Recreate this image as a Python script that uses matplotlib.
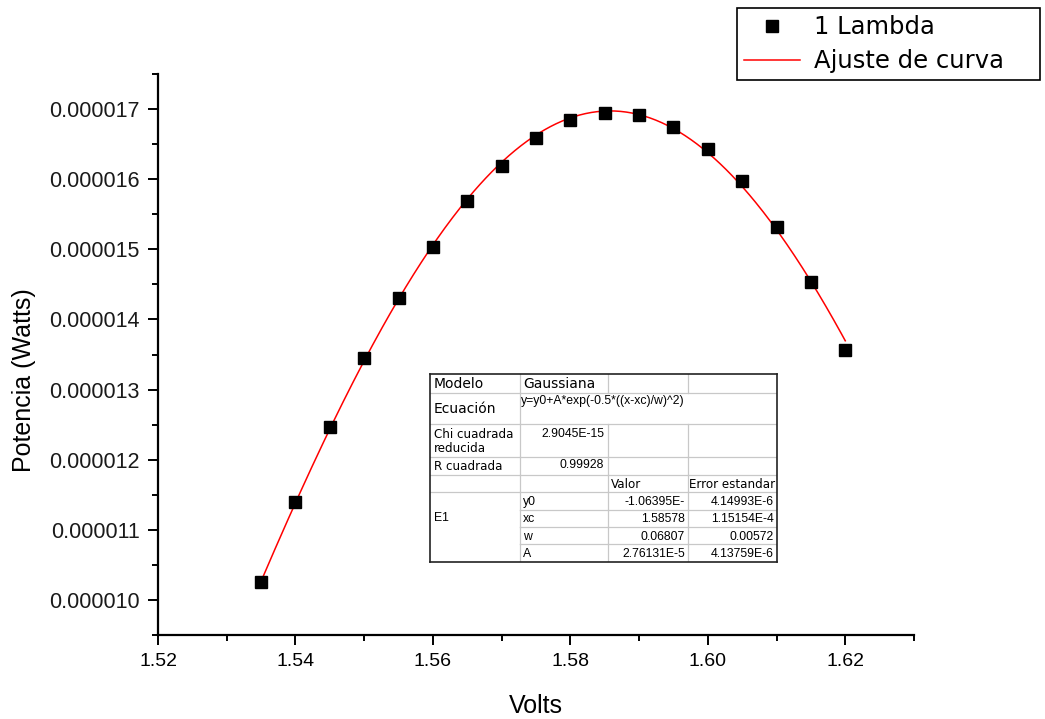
import numpy as np
import matplotlib
matplotlib.use("Agg")
import matplotlib.pyplot as plt
import matplotlib.ticker as mticker

# measured power vs. voltage
volts = [1.535, 1.540, 1.545, 1.550, 1.555, 1.560, 1.565, 1.570, 1.575,
         1.580, 1.585, 1.590, 1.595, 1.600, 1.605, 1.610, 1.615, 1.620]
watts = [1.0257e-5, 1.1398e-5, 1.2468e-5, 1.3452e-5, 1.4308e-5, 1.5036e-5,
         1.5692e-5, 1.6191e-5, 1.6590e-5, 1.6847e-5, 1.6947e-5, 1.6919e-5,
         1.6748e-5, 1.6434e-5, 1.5977e-5, 1.5321e-5, 1.4536e-5, 1.3566e-5]

# gaussian fit parameters
fit_y0 = -1.06395e-5
fit_xc = 1.58578
fit_w = 0.06807
fit_A = 2.76131e-5

# fit report rows: (name, value, error)
param_names = ["y0", "xc", "w", "A"]
param_values = ["-1.06395E-", "1.58578", "0.06807", "2.76131E-5"]
param_errors = ["4.14993E-6", "1.15154E-4", "0.00572", "4.13759E-6"]
chi_sq = "2.9045E-15"
r_sq = "0.99928"
equation = "y=y0+A*exp(-0.5*((x-xc)/w)^2)"

sans = ["Liberation Sans", "DejaVu Sans"]
plt.rcParams["font.family"] = sans

fig = plt.figure(figsize=(10.45, 7.19), dpi=100)
ax = fig.add_axes([158/1045, 1-635/719, 756/1045, 561/719])

xfit = np.linspace(volts[0], volts[-1], 300)
yfit = fit_y0 + fit_A*np.exp(-0.5*((xfit - fit_xc)/fit_w)**2)

ax.plot(volts, watts, linestyle="none", marker="s", markersize=8.5,
        color="black", label="1 Lambda", zorder=3)
ax.plot(xfit, yfit, color="red", linewidth=1.1, label="Ajuste de curva", zorder=2)

ax.set_xlim(1.52, 1.63)
ax.set_ylim(0.95e-5, 1.75e-5)
ax.xaxis.set_major_locator(mticker.MultipleLocator(0.02))
ax.xaxis.set_minor_locator(mticker.MultipleLocator(0.01))
ax.yaxis.set_major_locator(mticker.MultipleLocator(1e-6))
ax.yaxis.set_minor_locator(mticker.MultipleLocator(0.5e-6))
ax.xaxis.set_major_formatter(mticker.FormatStrFormatter("%.2f"))
ax.yaxis.set_major_formatter(mticker.FormatStrFormatter("%.6f"))

for s in ["top", "right"]:
    ax.spines[s].set_visible(False)
for s in ["left", "bottom"]:
    ax.spines[s].set_linewidth(1.6)
ax.tick_params(which="major", direction="out", length=7, width=1.4,
               pad=6, colors="black")
ax.tick_params(which="minor", direction="out", length=4, width=1.4)
ax.tick_params(axis="x", labelsize=14)
ax.tick_params(axis="y", labelsize=15.5)
for lab in ax.get_yticklabels():
    lab.set_color("#1a1a1a")

ax.set_xlabel("Volts", fontsize=18)
ax.set_ylabel("Potencia (Watts)", fontsize=18)
ax.xaxis.set_label_coords(0.5, -0.105)
ax.yaxis.set_label_coords(-0.162, 0.455)

fig.legend(loc="upper left", bbox_to_anchor=(737/1045, 1-8/719, 303/1045, 0.0),
           mode="expand", borderaxespad=0, fancybox=False, edgecolor="black",
           framealpha=1, prop={"family": "DejaVu Sans", "size": 17.5},
           handlelength=2.3, handletextpad=0.55, borderpad=0.3,
           labelspacing=0.4, markerscale=1.0)
fig.legends[0].get_frame().set_linewidth(1.2)

# fit report table
tab = fig.add_axes([430/1045, 1-562/719, 347/1045, 188/719])
tab.set_xlim(0, 347)
tab.set_ylim(188, 0)
tab.set_xticks([])
tab.set_yticks([])
for s in tab.spines.values():
    s.set_linewidth(1.2)
    s.set_color("#222222")

cols = [0, 90, 178, 258, 347]
rows = [0, 19, 50, 83, 101, 118, 136, 153, 170, 188]
grid = "#c8c8c8"
for r in rows[1:-1]:
    x0 = cols[1] if r > rows[5] else 0
    tab.plot([x0, 347], [r, r], color=grid, lw=0.9)
for c in cols[1:-1]:
    for i in range(len(rows) - 1):
        if i == 1 and c != cols[1]:
            continue
        tab.plot([c, c], [rows[i], rows[i+1]], color=grid, lw=0.9)

big = {"family": "DejaVu Sans", "size": 10}
mid = {"family": "DejaVu Sans", "size": 8.6}
small = {"family": "Liberation Sans", "size": 8.8}

tab.text(4, 10, "Modelo", va="center", **big)
tab.text(93, 10, "Gaussiana", va="center", **big)
tab.text(4, 35, "Ecuación", va="center", **big)
tab.text(91, 27, equation, va="center", **small)
tab.text(4, 60, "Chi cuadrada", va="center", **mid)
tab.text(4, 75, "reducida", va="center", **mid)
tab.text(174, 60, chi_sq, va="center", ha="right", **small)
tab.text(4, 92, "R cuadrada", va="center", **mid)
tab.text(174, 91, r_sq, va="center", ha="right", **small)
tab.text(181, 110, "Valor", va="center", **mid)
tab.text(259, 110, "Error estandar", va="center", **mid)
tab.text(4, 144, "E1", va="center", **small)
for i, (n, v, e) in enumerate(zip(param_names, param_values, param_errors)):
    yc = (rows[5+i] + rows[6+i])/2 + 1
    tab.text(93, yc, n, va="center", **small)
    tab.text(255, yc, v, va="center", ha="right", **small)
    tab.text(344, yc, e, va="center", ha="right", **small)

fig.savefig("out.png", dpi=100)
